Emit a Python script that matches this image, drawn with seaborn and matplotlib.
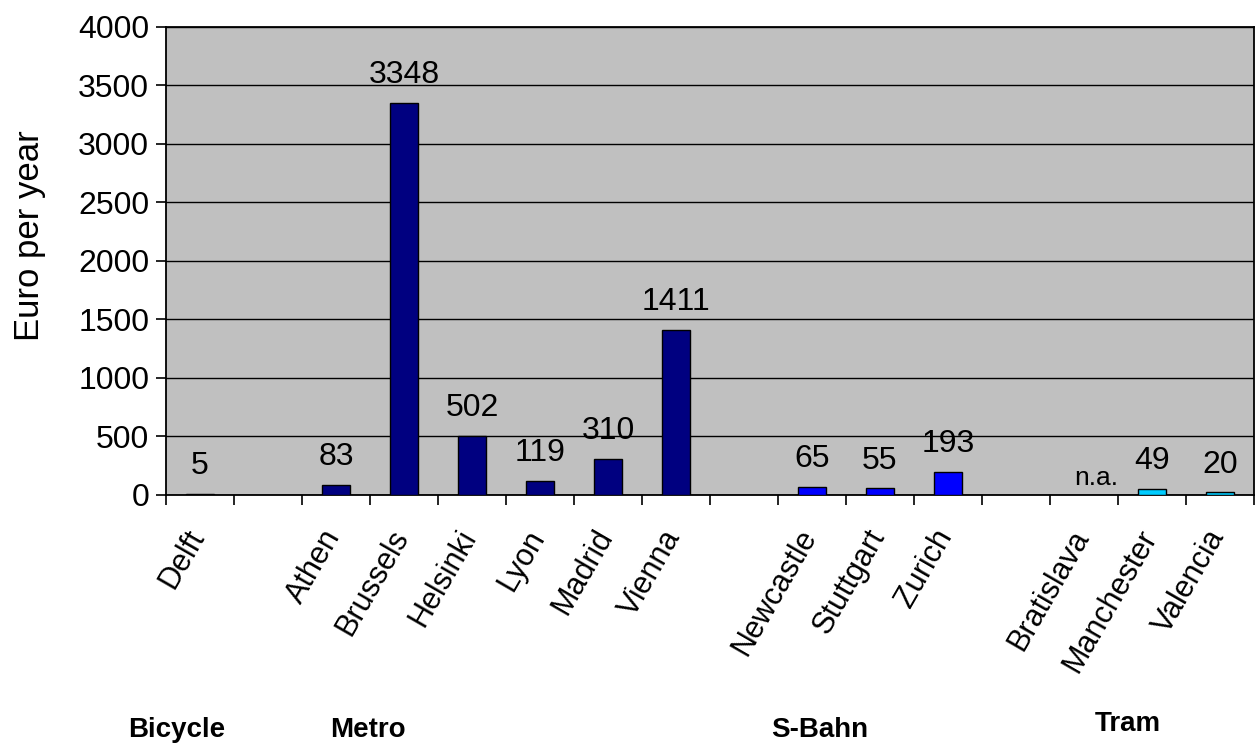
import numpy as np
import pandas as pd
import matplotlib
matplotlib.use("Agg")
import matplotlib.pyplot as plt
import matplotlib.transforms as mtransforms
import seaborn as sns

# ---- data ----
cities = ["Delft", "Athen", "Brussels", "Helsinki", "Lyon", "Madrid", "Vienna",
          "Newcastle", "Stuttgart", "Zurich", "Bratislava", "Manchester", "Valencia"]
modes = ["Bicycle", "Metro", "Metro", "Metro", "Metro", "Metro", "Metro",
         "S-Bahn", "S-Bahn", "S-Bahn", "Tram", "Tram", "Tram"]
costs = [5, 83, 3348, 502, 119, 310, 1411, 65, 55, 193, np.nan, 49, 20]
value_labels = ["5", "83", "3348", "502", "119", "310", "1411",
                "65", "55", "193", "n.a.", "49", "20"]
group_names = ["Bicycle", "Metro", "S-Bahn", "Tram"]
group_colors = {"Bicycle": "#000080", "Metro": "#000080", "S-Bahn": "#0000FF", "Tram": "#00CCFF"}
y_ticks = [0, 500, 1000, 1500, 2000, 2500, 3000, 3500, 4000]

df = pd.DataFrame({"city": cities, "mode": modes, "cost": costs, "label": value_labels})

# category order with an empty slot between groups
order = []
for gi, g in enumerate(group_names):
    if gi > 0:
        order.append(f"__gap{gi}")
    order.extend(df.loc[df["mode"] == g, "city"].tolist())

plt.rcParams["font.family"] = ["Liberation Sans", "DejaVu Sans"]
fig = plt.figure(figsize=(12.57, 7.43), dpi=100)
ax = fig.add_axes([0.132, 0.334, 0.8656, 0.6297])
ax.set_facecolor("#C0C0C0")

sns.barplot(data=df, x="city", y="cost", hue="mode", order=order,
            hue_order=group_names, palette=group_colors, dodge=False,
            saturation=1, width=0.41, edgecolor="black", linewidth=1.0,
            legend=False, ax=ax, zorder=3)

ax.set_xlim(-0.5, len(order) - 0.5)
ax.set_ylim(0, 4000)
ax.set_yticks(y_ticks)
ax.set_yticklabels([str(v) for v in y_ticks], fontsize=23)
ax.yaxis.grid(True, color="black", linewidth=1.0, zorder=0)
ax.set_axisbelow(True)

# tick marks at slot boundaries
ax.set_xticks(np.arange(-0.5, len(order), 1.0))
ax.set_xticklabels([])
ax.tick_params(axis="x", which="major", length=7, width=1.2, color="black", direction="out")
ax.tick_params(axis="y", length=7, width=1.2, color="black", direction="out", pad=5)

# rotated category labels at slot centres
lab_trans = (mtransforms.blended_transform_factory(ax.transData, ax.transAxes)
             + mtransforms.ScaledTranslation(-2 / 100, -37 / 100, fig.dpi_scale_trans))
for city in cities:
    ax.text(order.index(city), 0, city, transform=lab_trans, rotation=60,
            rotation_mode="anchor", ha="right", va="center", fontsize=22)

for s in ax.spines.values():
    s.set_color("black")
    s.set_linewidth(1.3)

ax.set_xlabel("")
ax.set_ylabel("Euro per year", fontsize=25, va="center")
ax.yaxis.set_label_coords(-0.125, 0.553)

# value labels
for _, row in df.iterrows():
    xpos = order.index(row["city"])
    if np.isnan(row["cost"]):
        ax.annotate(row["label"], (xpos, 0), xytext=(9, 12), textcoords="offset points",
                    ha="center", va="center", fontsize=19, color="black")
    else:
        ax.annotate(row["label"], (xpos, row["cost"]), xytext=(0, 20), textcoords="offset points",
                    ha="center", va="center", fontsize=23, color="black")

# group captions below the axis
trans = mtransforms.blended_transform_factory(ax.transData, fig.transFigure)
group_x = [-0.34, 2.47, 9.12, 13.65]
group_y = [0.018, 0.018, 0.018, 0.026]
for name, gx, gy in zip(group_names, group_x, group_y):
    fig.text(gx, gy, name, transform=trans, ha="center", va="center",
             fontsize=20, fontweight="bold")

fig.savefig("out.png", dpi=100, facecolor="white")
